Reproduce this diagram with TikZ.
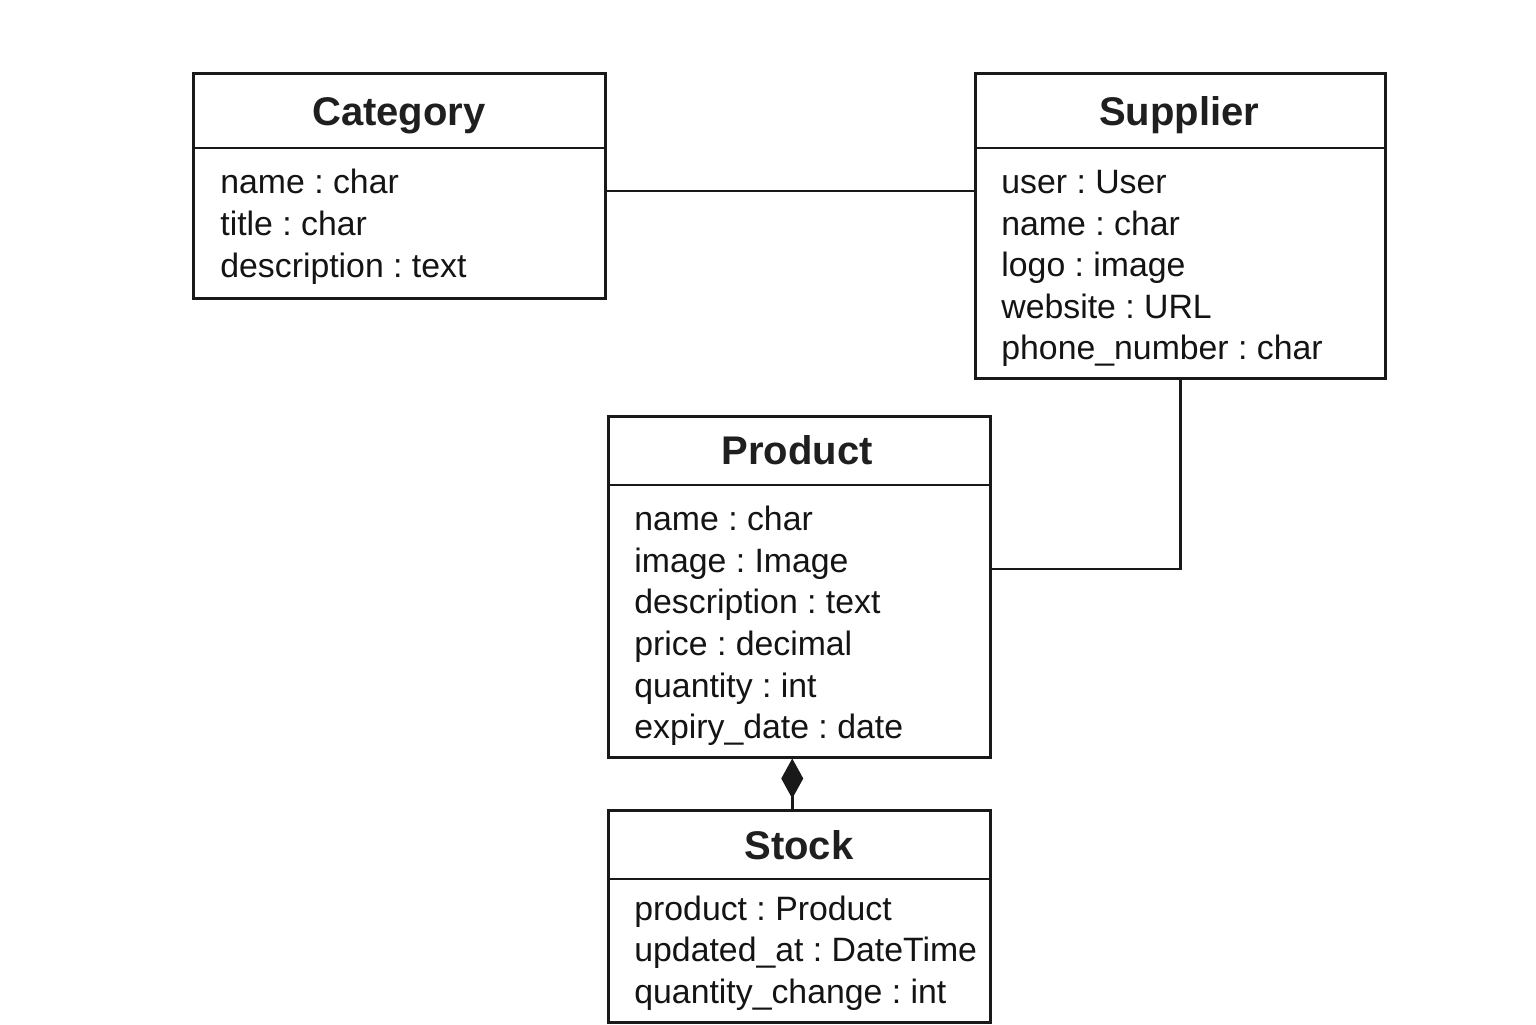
\documentclass[tikz,border=0pt]{standalone}
\usepackage{fontspec}
\setmainfont{Liberation Sans}
\usetikzlibrary{arrows.meta,calc}
\frenchspacing
\begin{document}
\begin{tikzpicture}[x=0.5pt,y=-0.5pt,
  classbox/.style={draw=black!90,line width=1.25pt,rectangle,inner sep=0pt,anchor=north west},
  divider/.style={draw=black!90,line width=1.25pt},
  conn/.style={draw=black!90,line width=1.25pt},
  titletext/.style={anchor=base,inner sep=0pt,font=\fontsize{20}{24}\selectfont\bfseries,text=black!88},
  attrtext/.style={anchor=base west,inner sep=0pt,font=\fontsize{16.9}{21}\selectfont,text=black!92,align=left}]
\useasboundingbox[fill=white] (0,0) rectangle (1536,1024);

% Category
\node[classbox,minimum width=206pt,minimum height=112.5pt] (catbox) at (192,72) {};
\draw[divider] (192,148) -- (604,148);
\node[titletext] (cattitle) at (399,125) {Category};
\node[attrtext] (cat1) at (220,193) {name : char};
\node[attrtext] (cat2) at (220,235) {title : char};
\node[attrtext] (cat3) at (220,277) {description : text};

% Supplier
\node[classbox,minimum width=205pt,minimum height=152.5pt] (supbox) at (974,72) {};
\draw[divider] (974,148) -- (1384,148);
\node[titletext] (suptitle) at (1179,125) {Supplier};
\node[attrtext] (sup1) at (1001,193) {user : User};
\node[attrtext] (sup2) at (1001,235) {name : char};
\node[attrtext] (sup3) at (1001,276) {logo : image};
\node[attrtext] (sup4) at (1001,318) {website : URL};
\node[attrtext] (sup5) at (1001,359) {phone\_number : char};

% Product
\node[classbox,minimum width=191pt,minimum height=170.5pt] (prodbox) at (607,415) {};
\draw[divider] (607,485) -- (989,485);
\node[titletext] (prodtitle) at (797,464) {Product};
\node[attrtext] (prod1) at (634,530) {name : char};
\node[attrtext] (prod2) at (634,572) {image : Image};
\node[attrtext] (prod3) at (634,613) {description : text};
\node[attrtext] (prod4) at (634,655) {price : decimal};
\node[attrtext] (prod5) at (634,697) {quantity : int};
\node[attrtext] (prod6) at (634,738) {expiry\_date : date};

% Stock
\node[classbox,minimum width=191pt,minimum height=106pt] (stockbox) at (607,809) {};
\draw[divider] (607,879) -- (989,879);
\node[titletext] (stocktitle) at (799,859) {Stock};
\node[attrtext] (stock1) at (634,920) {product : Product};
\node[attrtext] (stock2) at (634,961) {updated\_at : DateTime};
\node[attrtext] (stock3) at (634,1003) {quantity\_change : int};

% Connectors
\coordinate (catport) at ($(catbox.north east)!0.524!(catbox.south east)$);
\draw[conn] (catport) -- (catport -| supbox.west);
\coordinate (prodport) at ($(prodbox.north east)!0.449!(prodbox.south east)$);
\draw[conn] (supbox.south) |- (prodport);
\draw[conn,-{Diamond[length=20pt,width=11pt,fill=black!90]}] ([xshift=-3.5pt]stockbox.north) -- ([xshift=-3.5pt]prodbox.south);
\end{tikzpicture}
\end{document}
